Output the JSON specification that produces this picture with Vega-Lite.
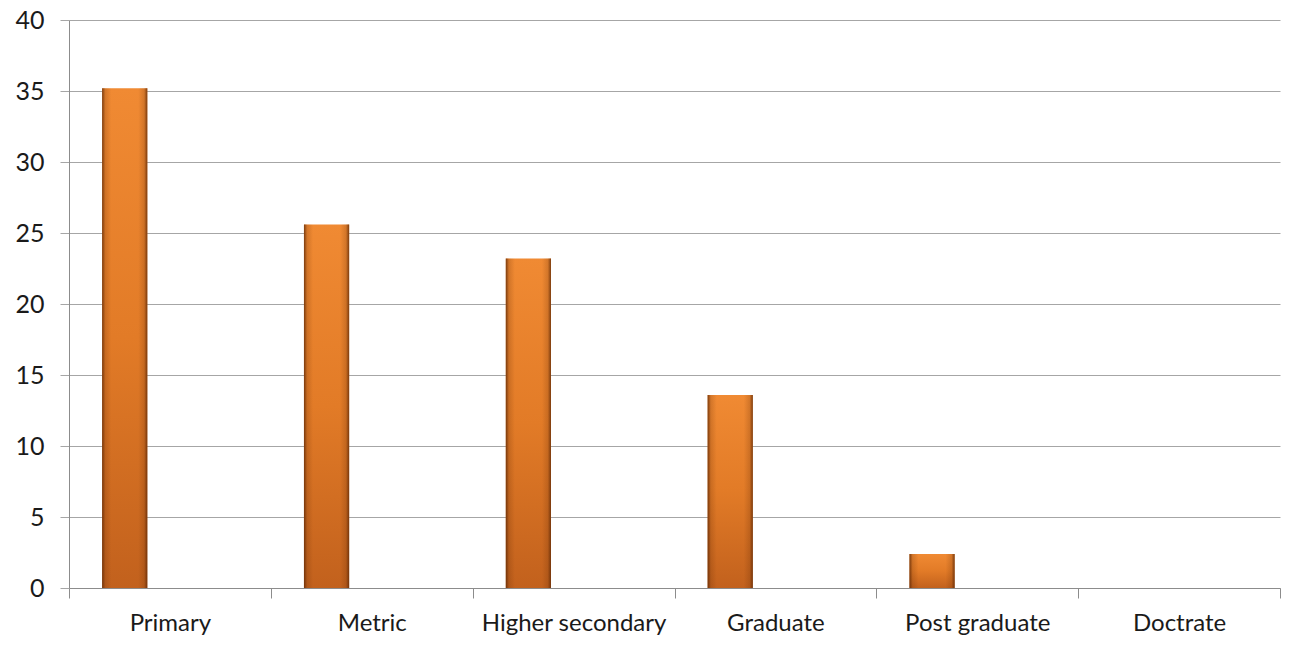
{
  "$schema": "https://vega.github.io/schema/vega-lite/v6.json",
  "autosize": {"type": "none"},
  "width": 1211,
  "height": 568,
  "padding": {"left": 69, "top": 20, "right": 14, "bottom": 59},
  "background": "white",
  "config": {"view": {"stroke": null}, "font": "Lato"},
  "data": {
    "values": [
      {"level": "Primary", "series": "A", "value": 35.2},
      {"level": "Metric", "series": "A", "value": 25.6},
      {"level": "Higher secondary", "series": "A", "value": 23.2},
      {"level": "Graduate", "series": "A", "value": 13.6},
      {"level": "Post graduate", "series": "A", "value": 2.4},
      {"level": "Doctrate", "series": "A", "value": 0}
    ]
  },
  "encoding": {
    "x": {
      "field": "level", "type": "nominal", "sort": null,
      "scale": {"paddingInner": 0, "paddingOuter": 0},
      "axis": {
        "title": null, "labelAngle": 0, "tickBand": "extent",
        "tickSize": 10, "tickColor": "#8c8c8c", "domainColor": "#8c8c8c",
        "labelFont": "Lato", "labelFontSize": 24, "labelColor": "#1a1a1a",
        "labelPadding": 13, "labelLimit": 400, "labelOverlap": false
      }
    },
    "xOffset": {
      "field": "series", "type": "nominal",
      "scale": {"domain": ["A", "B", "C"], "paddingInner": 0, "paddingOuter": 0.733}
    },
    "y": {
      "field": "value", "type": "quantitative",
      "scale": {"domain": [0, 40], "nice": false},
      "axis": {
        "title": null, "values": [0, 5, 10, 15, 20, 25, 30, 35, 40],
        "grid": true, "gridColor": "#a6a6a6", "gridWidth": 1,
        "tickSize": 9, "tickColor": "#a6a6a6", "domainColor": "#8c8c8c",
        "labelFont": "Lato", "labelFontSize": 25, "labelColor": "#1a1a1a",
        "labelPadding": 16
      }
    }
  },
  "layer": [
    {
      "mark": {
        "type": "bar",
        "color": {
          "gradient": "linear", "x1": 0, "x2": 0, "y1": 0, "y2": 1,
          "stops": [
            {"offset": 0, "color": "#F08A33"},
            {"offset": 0.5, "color": "#E27B27"},
            {"offset": 1, "color": "#C2611D"}
          ]
        }
      }
    },
    {
      "mark": {
        "type": "bar",
        "color": {
          "gradient": "linear", "x1": 0, "x2": 1, "y1": 0, "y2": 0,
          "stops": [
            {"offset": 0, "color": "rgba(95,40,5,0.8)"},
            {"offset": 0.07, "color": "rgba(95,40,5,0.2)"},
            {"offset": 0.2, "color": "rgba(95,40,5,0)"},
            {"offset": 0.8, "color": "rgba(95,40,5,0)"},
            {"offset": 0.93, "color": "rgba(95,40,5,0.2)"},
            {"offset": 1, "color": "rgba(95,40,5,0.8)"}
          ]
        }
      }
    }
  ]
}
